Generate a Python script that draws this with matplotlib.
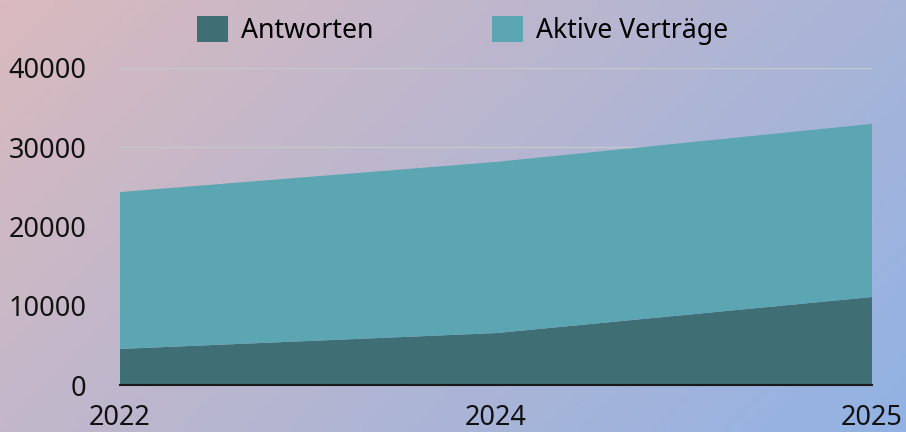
import numpy as np
import matplotlib
matplotlib.use("Agg")
import matplotlib.pyplot as plt
from matplotlib.patches import Patch

plt.rcParams['font.family'] = ['Noto Sans', 'DejaVu Sans']

years = ["2022", "2024", "2025"]
antworten = [4550, 6550, 11100]
aktive_vertraege = [19800, 21600, 21850]
series_names = ["Antworten", "Aktive Verträge"]
colors = ["#3f6e75", "#5ca5b2"]
y_ticks = [0, 10000, 20000, 30000, 40000]

W, H = 906, 432
fig = plt.figure(figsize=(W / 100, H / 100), dpi=100)

# gradient background
bg = fig.add_axes([0, 0, 1, 1], zorder=-10)
bg.set_axis_off()
nx, ny = 200, 100
xx, yy = np.meshgrid(np.linspace(0, 1, nx), np.linspace(0, 1, ny))
t = np.clip((xx * 0.75 + yy * 0.35) / 1.1, 0, 1)
c0 = np.array([218, 186, 190]) / 255.0
c1 = np.array([145, 178, 228]) / 255.0
img = c0[None, None, :] * (1 - t[..., None]) + c1[None, None, :] * t[..., None]
bg.imshow(img, aspect='auto', extent=[0, 1, 0, 1], origin='upper')
bg.set_xlim(0, 1)
bg.set_ylim(0, 1)

ax = fig.add_axes([120 / W, 1 - 385 / H, (872 - 120) / W, (385 - 68) / H])
ax.patch.set_alpha(0)
x = np.arange(len(years))
ax.stackplot(x, antworten, aktive_vertraege, colors=colors, zorder=2, linewidth=0)
ax.set_xlim(0, len(years) - 1)
ax.set_ylim(0, 40000)
ax.set_yticks(y_ticks)
ax.set_yticklabels([str(v) for v in y_ticks])
ax.set_xticks(x)
ax.set_xticklabels(years)
ax.grid(axis='y', color='#c3c9c6', linewidth=1, zorder=1)
ax.set_axisbelow(True)
for s in ['top', 'right', 'left']:
    ax.spines[s].set_visible(False)
ax.spines['bottom'].set_color('#1a1a1a')
ax.spines['bottom'].set_linewidth(1.5)
ax.spines['bottom'].set_zorder(5)
ax.tick_params(axis='both', length=0, labelsize=19.5, colors='#111111')
ax.tick_params(axis='y', pad=24)
ax.tick_params(axis='x', pad=14)

handles = [Patch(facecolor=c, edgecolor='none') for c in colors]
fig.legend(handles, series_names, loc='upper left',
           bbox_to_anchor=(197 / W, 1 - 16 / H), ncol=2, frameon=False,
           fontsize=19.2, handlelength=1.15, handleheight=1.15,
           handletextpad=0.5, columnspacing=4.45, borderpad=0,
           borderaxespad=0)

fig.savefig("out.png", dpi=100)
